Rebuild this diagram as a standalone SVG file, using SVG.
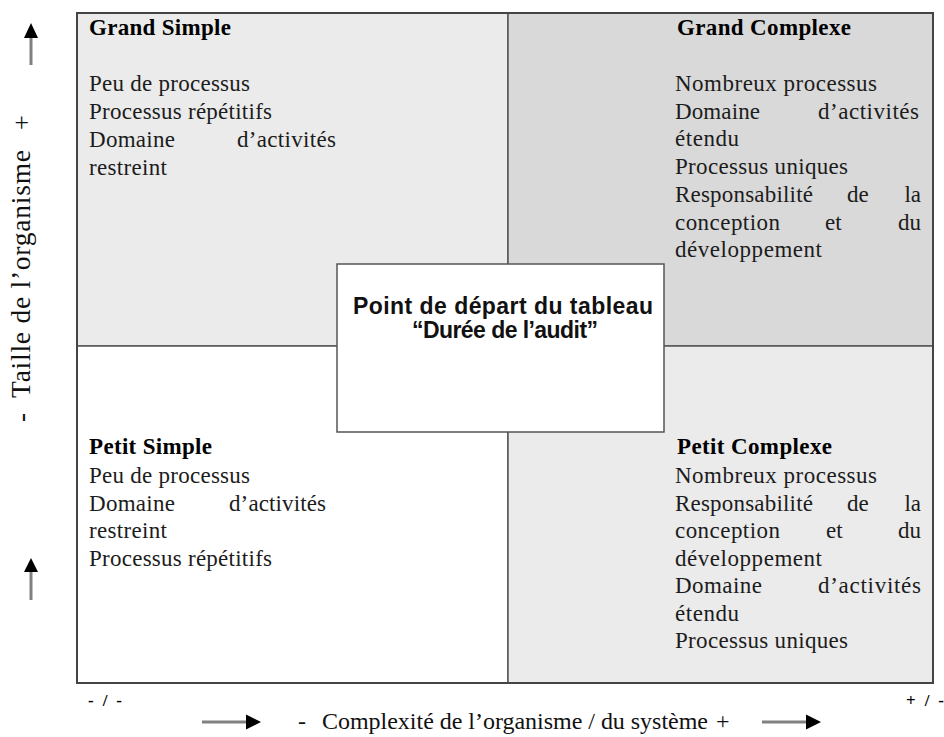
<svg xmlns="http://www.w3.org/2000/svg" width="944" height="737" viewBox="0 0 944 737">
<style>
.t{font-family:"Liberation Serif","Times New Roman",serif;font-size:23px;fill:#1c1c1c}
.h{font-weight:bold;fill:#000}
.e{text-anchor:end}
.c{font-family:"Liberation Sans",Arial,sans-serif;font-weight:bold;font-size:23px;text-anchor:middle;fill:#111}
.q{stroke:#555;stroke-width:1.5}
.shaft{stroke:#808080;stroke-width:3;fill:none}
.head{fill:#000}
.ax{font-family:"Liberation Serif","Times New Roman",serif;fill:#111}
.pm{font-family:"Liberation Serif","Times New Roman",serif;font-size:17px;font-weight:bold;fill:#000}
</style>
<rect width="944" height="737" fill="#fff"/>
<g id="grand-simple">
<rect class="q" x="77" y="13" width="431" height="333" fill="#ebebeb"/>
<text class="t h" x="89" y="35" textLength="142">Grand Simple</text>
<text class="t" x="89" y="91" textLength="161">Peu de processus</text>
<text class="t" x="89" y="119" textLength="183">Processus répétitifs</text>
<text class="t" x="89" y="147" textLength="86">Domaine</text>
<text class="t" x="237" y="147" textLength="99">d’activités</text>
<text class="t" x="89" y="175" textLength="78">restreint</text>
</g>
<g id="grand-complexe">
<rect class="q" x="508" y="13" width="425" height="333" fill="#d9d9d9"/>
<text class="t h" x="677" y="35" textLength="174">Grand Complexe</text>
<text class="t" x="675" y="91" textLength="202">Nombreux processus</text>
<text class="t" x="675" y="118.7" textLength="85">Domaine</text>
<text class="t" x="818" y="118.7" textLength="101">d’activités</text>
<text class="t" x="675" y="146.4" textLength="64">étendu</text>
<text class="t" x="675" y="174" textLength="173">Processus uniques</text>
<text class="t" x="675" y="201.8" textLength="138">Responsabilité</text>
<text class="t" x="847" y="201.8">de</text>
<text class="t e" x="921" y="201.8">la</text>
<text class="t" x="675" y="229.5" textLength="105">conception</text>
<text class="t" x="825" y="229.5">et</text>
<text class="t e" x="921" y="229.5">du</text>
<text class="t" x="675" y="257.2" textLength="147">développement</text>
</g>
<g id="petit-simple">
<rect class="q" x="77" y="346" width="431" height="337" fill="#fff"/>
<text class="t h" x="89" y="454" textLength="123">Petit Simple</text>
<text class="t" x="89" y="483" textLength="161">Peu de processus</text>
<text class="t" x="89" y="510.5" textLength="86">Domaine</text>
<text class="t" x="229" y="510.5" textLength="97">d’activités</text>
<text class="t" x="89" y="538" textLength="78">restreint</text>
<text class="t" x="89" y="565.5" textLength="183">Processus répétitifs</text>
</g>
<g id="petit-complexe">
<rect class="q" x="508" y="346" width="425" height="337" fill="#ebebeb"/>
<text class="t h" x="677" y="454" textLength="155">Petit Complexe</text>
<text class="t" x="675" y="483" textLength="202">Nombreux processus</text>
<text class="t" x="675" y="510.5" textLength="138">Responsabilité</text>
<text class="t" x="847" y="510.5">de</text>
<text class="t e" x="921" y="510.5">la</text>
<text class="t" x="675" y="538" textLength="105">conception</text>
<text class="t" x="826" y="538">et</text>
<text class="t e" x="921" y="538">du</text>
<text class="t" x="675" y="565.5" textLength="147">développement</text>
<text class="t" x="675" y="593" textLength="87">Domaine</text>
<text class="t" x="818" y="593" textLength="103">d’activités</text>
<text class="t" x="675" y="620.5" textLength="64">étendu</text>
<text class="t" x="675" y="648" textLength="173">Processus uniques</text>
</g>
<rect x="77" y="13" width="856" height="670" fill="none" stroke="#444" stroke-width="2"/>
<g id="depart">
<rect x="337" y="264" width="327" height="168" fill="#fff" stroke="#555" stroke-width="1.5"/>
<text class="c" x="503" y="314" textLength="300">Point de départ du tableau</text>
<text class="c" x="505" y="338" textLength="186">“Durée de l’audit”</text>
</g>
<g id="axe-taille" transform="translate(30,0) rotate(-90)">
<text class="ax" x="-422" y="0" font-size="27">-</text>
<text class="ax" x="-398" y="0" font-size="27.5" textLength="248">Taille de l’organisme</text>
<text class="ax" x="-130" y="0" font-size="26">+</text>
</g>
<g id="axe-complexite">
<text class="pm" x="88" y="706" textLength="34">- / -</text>
<text class="pm" x="906" y="706" textLength="38">+ / -</text>
<text class="ax" x="298" y="729" font-size="24">-</text>
<text class="ax" x="322" y="729" font-size="24" textLength="386">Complexité de l’organisme / du système</text>
<text class="ax" x="716" y="729" font-size="24">+</text>
</g>
<g id="connectors">
<line class="shaft" x1="31" y1="65" x2="31" y2="37"/>
<polygon class="head" points="31,23 24,38 38,38"/>
<line class="shaft" x1="31" y1="600" x2="31" y2="571"/>
<polygon class="head" points="31,558 24,572 38,572"/>
<line class="shaft" x1="202" y1="722" x2="247" y2="722"/>
<polygon class="head" points="261,722 246,714.5 246,729.5"/>
<line class="shaft" x1="762" y1="722" x2="807" y2="722"/>
<polygon class="head" points="821,722 806,714.5 806,729.5"/>
</g>
</svg>
